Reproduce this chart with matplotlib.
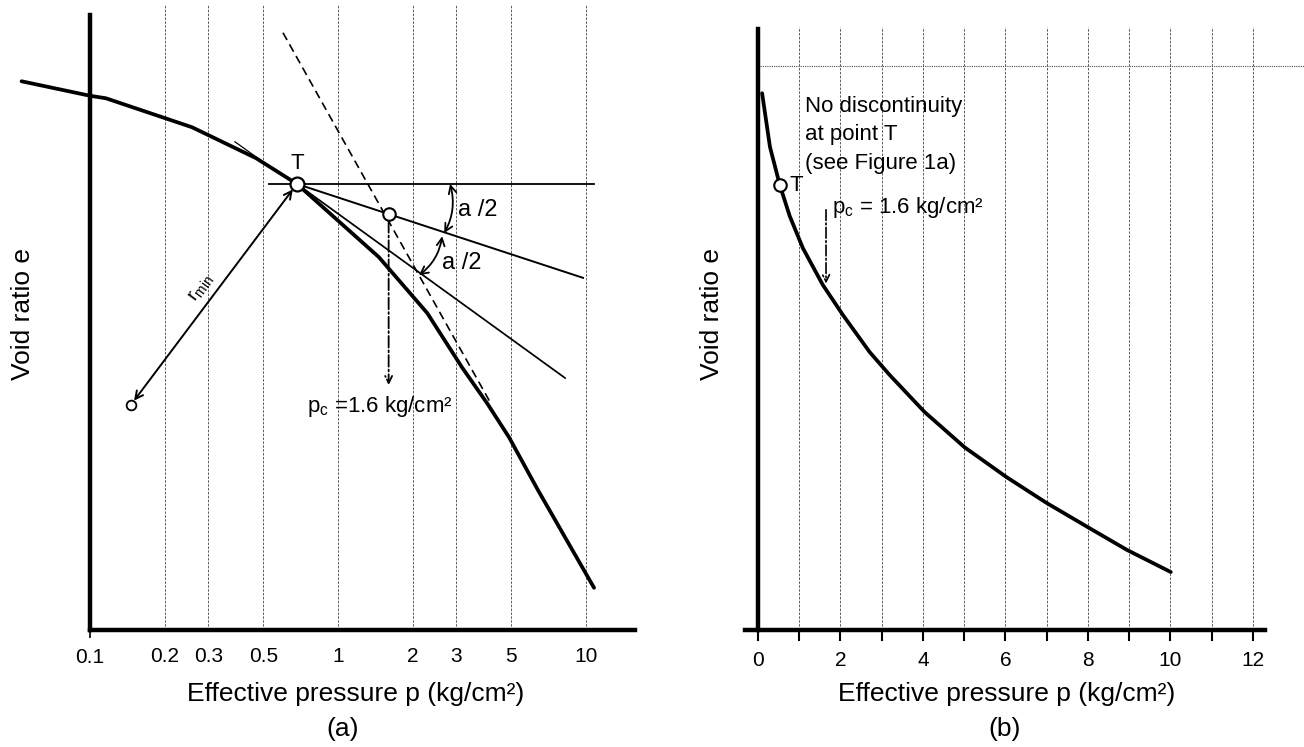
import numpy as np
import matplotlib.pyplot as plt
from matplotlib.ticker import FixedLocator, FixedFormatter

plt.rcParams['font.family'] = ['Liberation Sans', 'DejaVu Sans']
plt.rcParams['mathtext.fontset'] = 'custom'
plt.rcParams['mathtext.rm'] = 'Liberation Sans'
plt.rcParams['mathtext.it'] = 'Liberation Sans:italic'

# ---- (a) e - log p curve (e in arbitrary units)
p_a = [0.053, 0.1, 0.116, 0.258, 0.467, 0.683, 1.46, 2.29, 3.16, 3.99, 4.89, 6.40, 10.77]
e_a = [0.871, 0.848, 0.844, 0.798, 0.749, 0.708, 0.592, 0.503, 0.417, 0.360, 0.306, 0.222, 0.067]
p_T, e_T = 0.683, 0.708          # point of max curvature
p_c, e_c = 1.6, 0.660            # preconsolidation pressure on bisector
p_horiz = [0.527, 10.77]         # horizontal through T
p_tan1, e_tan1 = [0.683, 9.72], [0.708, 0.559]   # bisector
p_tan2, e_tan2 = [0.683, 8.23], [0.708, 0.400]   # tangent at T
p_dash, e_dash = [0.600, 4.10], [0.948, 0.362]   # virgin line extension
p_tick, e_tick = [0.384, 0.467], [0.775, 0.751]  # small tangent mark
p_O, e_O = 0.146, 0.357          # centre of r_min circle
ticks_a = [0.1, 0.2, 0.3, 0.5, 1, 2, 3, 5, 10]
labels_a = ['0.1', '0.2', '0.3', '0.5', '1', '2', '3', '5', '10']

# ---- (b) e - p curve, arithmetic scale
p_b = [0.10, 0.29, 0.53, 0.77, 1.09, 1.57, 2.06, 2.71, 3.19, 4.04, 5.01, 6.02, 6.99, 8.03, 8.95, 10.01]
e_b = [0.852, 0.767, 0.706, 0.657, 0.606, 0.548, 0.500, 0.441, 0.405, 0.346, 0.290, 0.243, 0.202, 0.162, 0.127, 0.092]
p_Tb, e_Tb = 0.53, 0.706
ticks_b = list(range(13))
labels_b = [str(t) if t % 2 == 0 else '' for t in ticks_b]

W, H = 1304, 747
fig = plt.figure(figsize=(W / 100, H / 100), dpi=100)

grid_kw = dict(colors='0.35', linewidths=0.7, linestyles=(0, (2.5, 1.5)))
arr = '<->,head_length=0.55,head_width=0.28'

# ================= (a)
ax = fig.add_axes([10 / W, 117 / H, 630 / W, 630 / H])
ax.set_xscale('log')
ax.set_xlim(0.0476, 16.5)
ax.set_ylim(0, 1)
for s in ['top', 'right']:
    ax.spines[s].set_visible(False)
ax.spines['left'].set_position(('data', 0.1))
ax.spines['left'].set_bounds(0, 0.976)
ax.spines['bottom'].set_bounds(0.1, 15.8)
for s in ['left', 'bottom']:
    ax.spines[s].set_linewidth(3.2)
ax.set_yticks([])
ax.xaxis.set_major_locator(FixedLocator(ticks_a[:1]))
ax.xaxis.set_major_formatter(FixedFormatter(labels_a[:1]))
ax.xaxis.set_minor_locator(FixedLocator(ticks_a[1:]))
ax.xaxis.set_minor_formatter(FixedFormatter(labels_a[1:]))
ax.tick_params(axis='x', which='major', length=6, width=1.2, pad=7, labelsize=15)
ax.tick_params(axis='x', which='minor', length=0, pad=12, labelsize=15)

ax.vlines(ticks_a[1:], 0, 0.992, **grid_kw)

ax.plot(p_a, e_a, color='black', lw=2.7, solid_capstyle='round', zorder=3)
ax.plot(p_tick, e_tick, color='black', lw=0.9)
ax.plot(p_horiz, [e_T, e_T], color='black', lw=1.3)
ax.plot(p_tan1, e_tan1, color='black', lw=1.4)
ax.plot(p_tan2, e_tan2, color='black', lw=1.25)
ax.plot(p_dash, e_dash, color='black', lw=1.2, ls=(0, (5, 3)))

ax.annotate('', xy=(p_T, e_T), xytext=(p_O, e_O),
            arrowprops=dict(arrowstyle=arr, color='black', lw=1.4, shrinkA=4, shrinkB=5))
ax.annotate('', xy=(p_c, 0.389), xytext=(p_c, e_c),
            arrowprops=dict(arrowstyle='->,head_length=0.5,head_width=0.25', color='black',
                            lw=1.3, ls='-.', shrinkA=5, shrinkB=0))
ax.annotate('', xy=(2.68, 0.630), xytext=(2.83, 0.708),
            arrowprops=dict(arrowstyle=arr, color='black', lw=1.3, shrinkA=0, shrinkB=0,
                            connectionstyle='arc3,rad=-0.2'))
ax.annotate('', xy=(2.12, 0.563), xytext=(2.63, 0.625),
            arrowprops=dict(arrowstyle=arr, color='black', lw=1.3, shrinkA=0, shrinkB=0,
                            connectionstyle='arc3,rad=-0.2'))

ax.plot([p_T], [e_T], 'o', ms=10, mfc='white', mec='black', mew=1.6, zorder=5)
ax.plot([p_c], [e_c], 'o', ms=9, mfc='white', mec='black', mew=1.5, zorder=5)
ax.plot([p_O], [e_O], 'o', ms=7, mfc='white', mec='black', mew=1.3, zorder=5)

ax.text(p_T, 0.741, 'T', fontsize=16, ha='center', va='center')
ax.text(3.05, 0.667, 'a /2', fontsize=17, ha='left', va='center')
ax.text(2.63, 0.583, 'a /2', fontsize=17, ha='left', va='center')
ax.text(0.278, 0.544, r'r$_{\mathrm{min}}$', fontsize=14, rotation=54,
        ha='center', va='center')
ax.text(0.75, 0.354, r'p$_{\mathrm{c}}$ =1.6 kg/cm²', fontsize=16, ha='left', va='center')

# ================= (b)
bx = fig.add_axes([740 / W, 117 / H, 564 / W, 630 / H])
bx.set_xlim(-0.436, 13.24)
bx.set_ylim(0, 1)
for s in ['top', 'right']:
    bx.spines[s].set_visible(False)
bx.spines['left'].set_position(('data', 0))
bx.spines['left'].set_bounds(0, 0.954)
bx.spines['bottom'].set_bounds(-0.315, 12.29)
for s in ['left', 'bottom']:
    bx.spines[s].set_linewidth(3.2)
bx.set_yticks([])
bx.set_xticks(ticks_b)
bx.set_xticklabels(labels_b)
bx.tick_params(axis='x', length=8, width=1.5, pad=7, labelsize=15)

bx.vlines(ticks_b[1:], 0, 0.957, **grid_kw)
bx.hlines(0.895, 0, 13.24, colors='0.3', linewidths=0.8, linestyles=(0, (1, 1)))

bx.plot(p_b, e_b, color='black', lw=2.7, solid_capstyle='round', solid_joinstyle='round', zorder=3)
bx.plot([p_Tb], [e_Tb], 'o', ms=9, mfc='white', mec='black', mew=1.5, zorder=5)
bx.text(0.76, 0.706, 'T', fontsize=16, ha='left', va='center')
bx.text(1.14, 0.786, 'No discontinuity\nat point T\n(see Figure 1a)', fontsize=16,
        ha='left', va='center', linespacing=1.45)
bx.text(1.79, 0.671, r'p$_{\mathrm{c}}$ = 1.6 kg/cm²', fontsize=16, ha='left', va='center')
bx.annotate('', xy=(1.65, 0.550), xytext=(1.65, 0.667),
            arrowprops=dict(arrowstyle='->,head_length=0.5,head_width=0.25', color='black',
                            lw=1.2, ls='-.', shrinkA=0, shrinkB=0))

# ---- labels
for cx, tag_x, tag in [(356, 343, '(a)'), (1007, 1005, '(b)')]:
    fig.text(cx / W, 1 - 694 / H, 'Effective pressure p (kg/cm²)', fontsize=19,
             ha='center', va='center')
    fig.text(tag_x / W, 1 - 729 / H, tag, fontsize=19, ha='center', va='center')
for cx in [23, 712]:
    fig.text(cx / W, 1 - 314 / H, 'Void ratio e', fontsize=19, rotation=90,
             ha='center', va='center')

fig.savefig('out.png', dpi=100)
